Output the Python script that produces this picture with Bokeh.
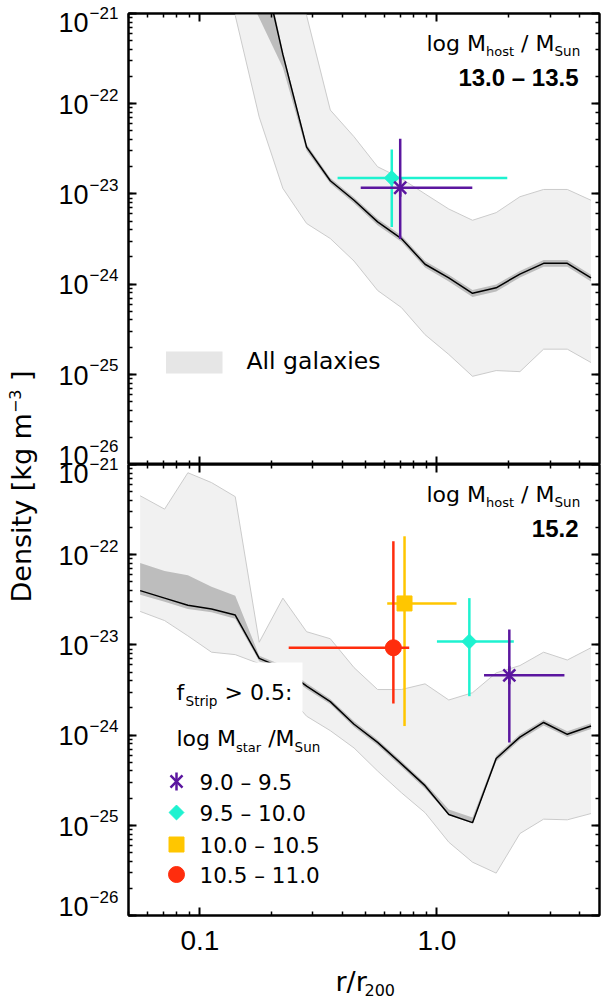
import numpy as np
from bokeh.plotting import figure
from bokeh.models import (Range1d, LogAxis, LogTicker, FixedTicker, CustomJSTickFormatter,
                          Label, BoxAnnotation)
from bokeh.layouts import row, column
from bokeh.embed import file_html
from bokeh.resources import INLINE

# ---------------- data ----------------
# radial bins r / r200
R = [0.056, 0.071, 0.089, 0.112, 0.141, 0.178, 0.224, 0.282, 0.355, 0.447,
     0.562, 0.708, 0.891, 1.122, 1.413, 1.778, 2.239, 2.818, 3.548, 4.467]

# top panel (log M_host 13.0 - 13.5), bins 4..19
TOP_R = R[4:]
TOP_MEDIAN = [1.0e-20, 5.0e-21, 3.5e-22, 3.3e-23, 1.4e-23, 8.5e-24, 4.9e-24, 3.2e-24,
              1.66e-24, 1.17e-24, 7.9e-25, 9.1e-25, 1.29e-24, 1.7e-24, 1.7e-24, 1.17e-24]
TOP_MED_LO = [3.0e-21, 8.9e-22, 2.5e-22, 3.0e-23, 1.3e-23, 7.9e-24, 4.5e-24, 2.95e-24,
              1.53e-24, 1.07e-24, 7.2e-25, 8.3e-25, 1.18e-24, 1.56e-24, 1.56e-24, 1.07e-24]
TOP_MED_HI = [1.6e-20, 6.3e-21, 3.8e-22, 3.55e-23, 1.5e-23, 9.1e-24, 5.3e-24, 3.45e-24,
              1.8e-24, 1.27e-24, 8.6e-25, 9.9e-25, 1.4e-24, 1.85e-24, 1.85e-24, 1.27e-24]
TOP_ALL_LO = [9.5e-22, 7.1e-23, 1.15e-23, 4.7e-24, 3.2e-24, 1.8e-24, 8.5e-25, 5.5e-25,
              2.75e-25, 1.66e-25, 9.5e-26, 1.1e-25, 1.07e-25, 1.9e-25, 1.9e-25, 1.35e-25]
TOP_ALL_HI = [1e-19, 1e-19, 1e-19, 9.5e-22, 8.5e-23, 4.3e-23, 2.0e-23, 1.48e-23,
              1.0e-23, 6.8e-24, 5.1e-24, 6.2e-24, 9.3e-24, 1.12e-23, 1.12e-23, 8.5e-24]

# bottom panel (log M_host 15.2), bins 0..19
BOT_R = R
BOT_MEDIAN = [4.0e-23, 3.3e-23, 2.75e-23, 2.5e-23, 2.14e-23, 7.1e-24, 5.5e-24, 3.5e-24,
              2.35e-24, 1.32e-24, 8.3e-25, 4.8e-25, 2.75e-25, 1.32e-25, 1.07e-25, 5.5e-25,
              9.5e-25, 1.38e-24, 1.02e-24, 1.26e-24]
BOT_MED_LO = [3.6e-23, 3.0e-23, 2.5e-23, 2.3e-23, 1.95e-23, 6.6e-24, 5.1e-24, 3.25e-24,
              2.2e-24, 1.23e-24, 7.7e-25, 4.45e-25, 2.55e-25, 1.3e-25, 1.05e-25, 5.1e-25,
              8.8e-25, 1.28e-24, 9.5e-25, 1.17e-24]
BOT_MED_HI = [8.1e-23, 6.6e-23, 5.9e-23, 4.4e-23, 3.5e-23, 7.6e-24, 5.9e-24, 3.75e-24,
              2.52e-24, 1.42e-24, 8.9e-25, 5.15e-25, 2.95e-25, 1.5e-25, 1.22e-25, 5.9e-25,
              1.02e-24, 1.48e-24, 1.1e-24, 1.35e-24]
BOT_ALL_LO = [2.35e-23, 1.86e-23, 1.26e-23, 8.3e-24, 7.8e-24, 6.2e-24, 3.2e-24, 1.62e-24,
              1.12e-24, 7.2e-25, 4.0e-25, 2.3e-25, 1.38e-25, 6.5e-26, 3.9e-26, 2.95e-26,
              8.1e-26, 1.17e-25, 1.15e-25, 1.35e-25]
BOT_ALL_HI = [4.5e-22, 3.2e-22, 8.1e-22, 6.3e-22, 4.4e-22, 1.07e-23, 3.3e-23, 1.4e-23,
              1.17e-23, 5.6e-24, 3.2e-24, 3.2e-24, 3.7e-24, 2.45e-24, 2.95e-24, 4.9e-24,
              5.9e-24, 8.3e-24, 6.8e-24, 9.3e-24]

# stripped galaxies (f_Strip > 0.5), one entry per stellar-mass bin
MASS_BINS = ["9.0 \u2013 9.5", "9.5 \u2013 10.0", "10.0 \u2013 10.5", "10.5 \u2013 11.0"]
BIN_COLORS = ["#5B169F", "#1EF2D0", "#FFC600", "#FF2D0D"]
BIN_MARKERS = ["asterisk", "diamond", "square", "circle"]

TOP_PT_BIN = [1, 0]
TOP_PT_X = [0.645, 0.70]
TOP_PT_XLO = [0.381, 0.477]
TOP_PT_XHI = [1.98, 1.41]
TOP_PT_Y = [1.5e-23, 1.17e-23]
TOP_PT_YLO = [4.3e-24, 3.16e-24]
TOP_PT_YHI = [3.1e-23, 4.1e-23]

BOT_PT_BIN = [2, 3, 1, 0]
BOT_PT_X = [0.73, 0.655, 1.37, 2.02]
BOT_PT_XLO = [0.617, 0.237, 1.00, 1.58]
BOT_PT_XHI = [1.21, 0.764, 2.11, 3.45]
BOT_PT_Y = [2.88e-23, 9.3e-24, 1.09e-23, 4.6e-24]
BOT_PT_YLO = [1.26e-24, 2.24e-24, 2.7e-24, 8.3e-25]
BOT_PT_YHI = [1.6e-22, 1.41e-22, 3.3e-23, 1.48e-23]

HOST_BINS = ["13.0 \u2013 13.5", "15.2"]

# axis tick positions / labels
X_MAJOR = [0.1, 1.0]
X_MINOR = [0.05, 0.06, 0.07, 0.08, 0.09, 0.2, 0.3, 0.4, 0.5, 0.6, 0.7, 0.8, 0.9, 2, 3, 4]
Y_EXPONENTS = [-21, -22, -23, -24, -25, -26]

# ---------------- style / layout ----------------
XMIN, XMAX = 0.05, 4.85
YMIN, YMAX = 1e-26, 1e-21
LIGHT = "#F1F1F1"
EDGE = "#CBCBCB"
DARK = "#BDBDBD"
SWATCH = "#E6E6E6"
SANS = "DejaVu Sans"
TICKFONT = "Liberation Sans"
BASE_FIX = 0.32      # lift labels so that their alphabetic baseline sits on the anchor

LBL_W = 126          # width of left strip (y title + y tick labels)
FIG_W = 475
FL, FR = 128, 599    # frame left/right in page px
TOP_F = 13           # top panel frame top (page px)
BOT_F = 464          # bottom panel frame top (page px)
FH = 451             # frame height
MAIN_H = 964         # bottom of the two panels' canvases
PAGE_H = 1000

XR = Range1d(XMIN, XMAX)


def xd(px):
    return 10 ** (np.log10(XMIN) + (px - FL) / (FR - FL) * np.log10(XMAX / XMIN))


def yd(py, ftop):
    return 10 ** (np.log10(YMAX) - (py - ftop) / FH * np.log10(YMAX / YMIN))


def lab(p, text, px, py, ftop, size, font=SANS, style="normal", align="left"):
    p.add_layout(Label(x=xd(px), y=yd(py, ftop), text=text, text_font=font,
                       text_font_size=f"{size}px", text_font_style=style,
                       text_align=align, text_baseline="alphabetic",
                       y_offset=BASE_FIX * size, text_color="black"))


def style_axis(ax, show):
    ax.axis_line_width = 2
    ax.axis_line_color = "black"
    ax.major_tick_in = 8
    ax.major_tick_out = 0
    ax.minor_tick_in = 4
    ax.minor_tick_out = 0
    ax.major_tick_line_width = 2
    ax.minor_tick_line_width = 1.5
    ax.major_tick_line_color = "black"
    ax.minor_tick_line_color = "black"
    if show:
        ax.major_label_text_font = TICKFONT
        ax.major_label_text_font_size = "28px"
        ax.major_label_text_color = "black"
    else:
        ax.major_label_text_font_size = "0px"
        ax.major_label_standoff = 0
        ax.formatter = CustomJSTickFormatter(code="return '';")


def make_panel(height, mb_top, mb_bottom, x_labels):
    p = figure(width=FIG_W, height=height, x_range=XR, y_range=Range1d(YMIN, YMAX),
               x_axis_type="log", y_axis_type="log", toolbar_location=None, title=None,
               output_backend="svg", min_border_left=FL - LBL_W,
               min_border_right=LBL_W + FIG_W - FR, min_border_top=mb_top,
               min_border_bottom=mb_bottom, outline_line_color="black",
               outline_line_width=2, background_fill_color="white",
               border_fill_color="white")
    p.grid.visible = False
    p.add_layout(LogAxis(ticker=LogTicker()), "right")
    p.add_layout(LogAxis(), "above")
    for ax in (p.below[0], p.above[0]):
        ax.ticker = FixedTicker(ticks=X_MAJOR, minor_ticks=X_MINOR)
    style_axis(p.left[0], False)
    style_axis(p.right[0], False)
    style_axis(p.above[0], False)
    style_axis(p.below[0], x_labels)
    if x_labels:
        p.below[0].formatter = CustomJSTickFormatter(code="return tick.toFixed(1);")
        p.below[0].major_label_standoff = 15
    return p


def draw_bands(p, r, all_lo, all_hi, med_lo, med_hi, med):
    p.varea(x=r, y1=all_lo, y2=all_hi, fill_color=LIGHT)
    p.line(r, all_lo, line_color=EDGE, line_width=1)
    p.line(r, all_hi, line_color=EDGE, line_width=1)
    p.varea(x=r, y1=med_lo, y2=med_hi, fill_color=DARK)
    p.line(r, med, line_color="black", line_width=1.5)


def draw_marker(p, x, y, b):
    c = BIN_COLORS[b]
    m = BIN_MARKERS[b]
    if m == "asterisk":
        p.scatter(x, y, marker="x", size=17, line_color=c, line_width=2.5)
        p.scatter(x, y, marker="dash", size=18, angle=np.pi / 2, line_color=c, line_width=2.5)
    elif m == "diamond":
        p.scatter(x, y, marker="square", size=10.5, angle=np.pi / 4, fill_color=c, line_color=c)
    elif m == "square":
        p.scatter(x, y, marker="square", size=15, fill_color=c, line_color=c)
    else:
        p.scatter(x, y, marker="circle", size=16, fill_color=c, line_color=c)


def draw_points(p, bins, xs, xlo, xhi, ys, ylo, yhi):
    for i in range(len(xs)):
        c = BIN_COLORS[bins[i]]
        p.segment(x0=[xlo[i]], y0=[ys[i]], x1=[xhi[i]], y1=[ys[i]], line_color=c, line_width=2.5)
        p.segment(x0=[xs[i]], y0=[ylo[i]], x1=[xs[i]], y1=[yhi[i]], line_color=c, line_width=2.5)
        draw_marker(p, [xs[i]], [ys[i]], bins[i])


def host_label(p, ftop, host_text):
    lab(p, "log M", 426, ftop + 37, ftop, 22)
    lab(p, "host", 485.5, ftop + 42, ftop, 13)
    lab(p, "/ M", 520.6, ftop + 37, ftop, 22)
    lab(p, "Sun", 554, ftop + 42, ftop, 13.5)
    lab(p, host_text, 578, ftop + 72, ftop, 24, font="Liberation Sans", style="bold",
        align="right")


# ---------------- top panel ----------------
top = make_panel(BOT_F, TOP_F, 0, False)
draw_bands(top, TOP_R, TOP_ALL_LO, TOP_ALL_HI, TOP_MED_LO, TOP_MED_HI, TOP_MEDIAN)
draw_points(top, TOP_PT_BIN, TOP_PT_X, TOP_PT_XLO, TOP_PT_XHI, TOP_PT_Y, TOP_PT_YLO, TOP_PT_YHI)
host_label(top, TOP_F, HOST_BINS[0])
top.add_layout(BoxAnnotation(left=xd(165.5), right=xd(222), top=yd(351, TOP_F),
                             bottom=yd(373, TOP_F), fill_color=SWATCH, fill_alpha=1,
                             line_color=None))
lab(top, "All galaxies", 246, 368, TOP_F, 23.5)

# ---------------- bottom panel ----------------
bot_h = MAIN_H - BOT_F
bot = make_panel(bot_h, 0, bot_h - FH, True)
draw_bands(bot, BOT_R, BOT_ALL_LO, BOT_ALL_HI, BOT_MED_LO, BOT_MED_HI, BOT_MEDIAN)
draw_points(bot, BOT_PT_BIN, BOT_PT_X, BOT_PT_XLO, BOT_PT_XHI, BOT_PT_Y, BOT_PT_YLO, BOT_PT_YHI)
host_label(bot, BOT_F, HOST_BINS[1])

# legend for stripped galaxies
bot.add_layout(BoxAnnotation(left=xd(158), right=xd(302), top=yd(662, BOT_F),
                             bottom=yd(713, BOT_F), fill_color="white", fill_alpha=1,
                             line_color=None))
lab(bot, "f", 176, 699, BOT_F, 22)
lab(bot, "Strip", 185, 705, BOT_F, 13.6)
lab(bot, "> 0.5:", 224, 699, BOT_F, 22)
lab(bot, "log M", 176, 745, BOT_F, 22)
lab(bot, "star", 235.5, 751, BOT_F, 13)
lab(bot, "/M", 267.7, 745, BOT_F, 22)
lab(bot, "Sun", 294.1, 751, BOT_F, 13.5)
LEG_ROW_Y = [781, 812, 844, 874]
for b in range(len(MASS_BINS)):
    draw_marker(bot, [xd(176)], [yd(LEG_ROW_Y[b], BOT_F)], b)
    lab(bot, MASS_BINS[b], 199, LEG_ROW_Y[b] + 8, BOT_F, 21.5)


# ---------------- text strips ----------------
def strip(w, h):
    f = figure(width=w, height=h, x_range=Range1d(0, w), y_range=Range1d(0, h),
               x_axis_type=None, y_axis_type=None, toolbar_location=None, title=None,
               output_backend="svg", min_border=0, outline_line_color=None)
    f.grid.visible = False
    return f


def slab(fig, fig_h, text, px, py, size, font=SANS, align="left", angle=0.0):
    if angle == 0.0:
        xo, yo = 0.0, BASE_FIX * size
    else:
        xo, yo = -BASE_FIX * size, 0.0
    fig.add_layout(Label(x=px, y=fig_h - py, text=text, angle=angle,
                         x_offset=xo, y_offset=yo,
                         text_font=font, text_font_size=f"{size}px", text_align=align,
                         text_baseline="alphabetic", text_color="black"))


# left strip: y title + y tick labels
yl = strip(LBL_W, MAIN_H)
slab(yl, MAIN_H, "Density [kg m", 30, 602, 27, angle=np.pi / 2)
slab(yl, MAIN_H, "\u22123", 20, 602 - 189.4, 16, angle=np.pi / 2)
slab(yl, MAIN_H, "]", 30, 602 - 189.4 - 23.6 - 8.6, 27, angle=np.pi / 2)

# tick labels 10^e for both panels (kept inside each panel's vertical extent)
for ftop in (TOP_F, BOT_F):
    for e in Y_EXPONENTS:
        ty = ftop + (np.log10(YMAX) - e) / np.log10(YMAX / YMIN) * FH
        if e == Y_EXPONENTS[0]:
            ty += 8
        elif e == Y_EXPONENTS[-1]:
            ty -= 10
        slab(yl, MAIN_H, "10", 88, ty + 9.5, 27, font=TICKFONT, align="right")
        slab(yl, MAIN_H, "\u2212" + str(-e), 89, ty - 3.5, 17, font=TICKFONT)

# bottom strip: x title
XT_H = PAGE_H - MAIN_H
xt = strip(LBL_W + FIG_W, XT_H)
slab(xt, XT_H, "r/r", 335, 990 - MAIN_H, 27)
slab(xt, XT_H, "200", 364, 995 - MAIN_H, 16)

layout = column(row(yl, column(top, bot)), xt)
open("out.html", "w").write(file_html(layout, INLINE))
